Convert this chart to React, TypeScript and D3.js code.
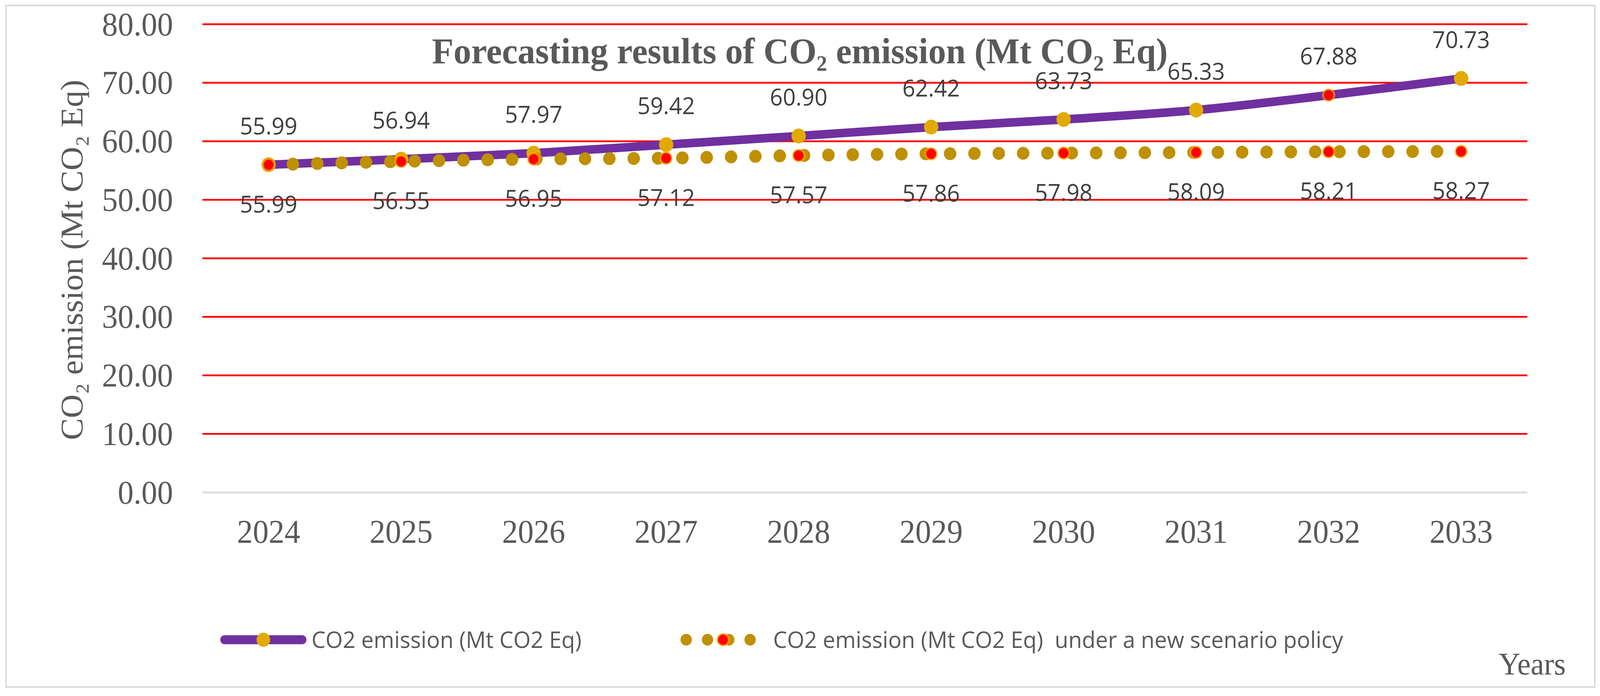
import { useEffect, useRef } from "react";
import * as d3 from "d3";

// Chart data
const years = ["2024", "2025", "2026", "2027", "2028", "2029", "2030", "2031", "2032", "2033"];
const emission = [55.99, 56.94, 57.97, 59.42, 60.9, 62.42, 63.73, 65.33, 67.88, 70.73];
const emissionPolicy = [55.99, 56.55, 56.95, 57.12, 57.57, 57.86, 57.98, 58.09, 58.21, 58.27];
const yTicks = [0, 10, 20, 30, 40, 50, 60, 70, 80];
// the base series has one point drawn with the red marker style
const redEmissionYears = ["2032"];

const seriesNames = [
  "CO2 emission (Mt CO2 Eq)",
  "CO2 emission (Mt CO2 Eq)  under a new scenario policy",
];

const WIDTH = 4253;
const HEIGHT = 1781;

const SERIF = "'Liberation Serif', 'Times New Roman', serif";
const SANS = "'Open Sans', 'Noto Sans', sans-serif";

export default function App() {
  const svgRef = useRef<SVGSVGElement>(null);

  useEffect(() => {
    if (!svgRef.current) return;
    d3.select(svgRef.current).selectAll("*").remove();
    const svg = d3.select(svgRef.current);

    const left = 538;
    const right = 4060;

    const x = d3.scaleBand<string>().domain(years).range([left, right]);
    const cx = (year: string) => (x(year) ?? 0) + x.bandwidth() / 2;
    const y = d3.scaleLinear().domain([0, 80]).range([1260, 62]);

    // Outer frame
    svg
      .append("rect")
      .attr("x", 16)
      .attr("y", 14)
      .attr("width", 4223)
      .attr("height", 1744)
      .attr("fill", "#ffffff")
      .attr("stroke", "#d9d9d9")
      .attr("stroke-width", 4);

    // Gridlines
    yTicks.forEach((t) => {
      svg
        .append("line")
        .attr("x1", left)
        .attr("x2", right)
        .attr("y1", y(t))
        .attr("y2", y(t))
        .attr("stroke", t === 0 ? "#d9d9d9" : "#ff0000")
        .attr("stroke-width", 4.5);
    });

    // Y tick labels
    yTicks.forEach((t) => {
      svg
        .append("text")
        .attr("x", 460)
        .attr("y", y(t))
        .attr("dy", "0.34em")
        .attr("text-anchor", "end")
        .attr("font-family", SERIF)
        .attr("font-size", 84)
        .attr("fill", "#595959")
        .text(t.toFixed(2));
    });

    // X tick labels
    years.forEach((yr) => {
      svg
        .append("text")
        .attr("x", cx(yr))
        .attr("y", 1389)
        .attr("text-anchor", "middle")
        .attr("font-family", SERIF)
        .attr("font-size", 84)
        .attr("fill", "#595959")
        .text(yr);
    });

    // Y axis title
    svg
      .append("text")
      .attr("transform", `translate(219, 665) rotate(-90)`)
      .attr("text-anchor", "middle")
      .attr("font-family", SERIF)
      .attr("font-size", 84)
      .attr("fill", "#595959")
      .text("CO₂ emission (Mt CO₂ Eq)");

    // Chart title
    svg
      .append("text")
      .attr("x", 2126)
      .attr("y", 162)
      .attr("text-anchor", "middle")
      .attr("font-family", SERIF)
      .attr("font-size", 94)
      .attr("font-weight", "bold")
      .attr("fill", "#595959")
      .text("Forecasting results of CO₂ emission (Mt CO₂ Eq)");

    // X axis title
    svg
      .append("text")
      .attr("x", 4162)
      .attr("y", 1726)
      .attr("text-anchor", "end")
      .attr("font-family", SERIF)
      .attr("font-size", 80)
      .attr("fill", "#595959")
      .text("Years");

    const line = d3
      .line<number>()
      .x((_, i) => cx(years[i]))
      .y((d) => y(d))
      .curve(d3.curveCatmullRom.alpha(0.5));

    const redMarker = (
      g: d3.Selection<SVGGElement, unknown, null, undefined>,
      px: number,
      py: number
    ) => {
      g.append("circle")
        .attr("cx", px)
        .attr("cy", py)
        .attr("r", 15)
        .attr("fill", "#ff0000")
        .attr("stroke", "#ffc000")
        .attr("stroke-opacity", 0.55)
        .attr("stroke-width", 5);
    };

    // Series 1: CO2 emission
    const g1 = svg.append("g");
    g1.append("path")
      .datum(emission)
      .attr("d", line)
      .attr("fill", "none")
      .attr("stroke", "#7030a0")
      .attr("stroke-width", 22);

    emission.forEach((v, i) => {
      if (redEmissionYears.includes(years[i])) {
        redMarker(g1, cx(years[i]), y(v));
      } else {
        g1.append("circle")
          .attr("cx", cx(years[i]))
          .attr("cy", y(v))
          .attr("r", 19)
          .attr("fill", "#e2aa00");
      }
    });

    // Series 2: new scenario policy (dotted)
    const g2 = svg.append("g");
    g2.append("path")
      .datum(emissionPolicy)
      .attr("d", line)
      .attr("fill", "none")
      .attr("stroke", "#bf9000")
      .attr("stroke-width", 33)
      .attr("stroke-linecap", "round")
      .attr("stroke-dasharray", "0.1 64.6");

    emissionPolicy.forEach((v, i) => {
      redMarker(g2, cx(years[i]), y(v));
    });

    // Data labels
    emission.forEach((v, i) => {
      svg
        .append("text")
        .attr("x", cx(years[i]))
        .attr("y", y(v) - 78)
        .attr("text-anchor", "middle")
        .attr("font-family", SANS)
        .attr("font-size", 60)
        .attr("fill", "#404040")
        .text(v.toFixed(2));
    });

    emissionPolicy.forEach((v, i) => {
      svg
        .append("text")
        .attr("x", cx(years[i]))
        .attr("y", y(v) + 122)
        .attr("text-anchor", "middle")
        .attr("font-family", SANS)
        .attr("font-size", 60)
        .attr("fill", "#404040")
        .text(v.toFixed(2));
    });

    // Legend
    const ly = 1637;
    const legend = svg.append("g");
    legend
      .append("line")
      .attr("x1", 597)
      .attr("x2", 803)
      .attr("y1", ly)
      .attr("y2", ly)
      .attr("stroke", "#7030a0")
      .attr("stroke-width", 23)
      .attr("stroke-linecap", "round");
    legend
      .append("circle")
      .attr("cx", 700)
      .attr("cy", ly)
      .attr("r", 18)
      .attr("fill", "#e2aa00");
    legend
      .append("text")
      .attr("x", 828)
      .attr("y", 1658)
      .attr("font-family", SANS)
      .attr("font-size", 59)
      .attr("fill", "#595959")
      .text(seriesNames[0]);

    legend
      .append("line")
      .attr("x1", 1824)
      .attr("x2", 1994)
      .attr("y1", ly)
      .attr("y2", ly)
      .attr("stroke", "#bf9000")
      .attr("stroke-width", 30)
      .attr("stroke-linecap", "round")
      .attr("stroke-dasharray", "0.1 56.5");
    redMarker(legend, 1922, ly);
    legend
      .append("text")
      .attr("x", 2055)
      .attr("y", 1658)
      .attr("font-family", SANS)
      .attr("font-size", 59)
      .attr("fill", "#595959")
      .style("white-space", "pre")
      .text(seriesNames[1]);
  }, []);

  return (
    <svg
      ref={svgRef}
      viewBox={`0 0 ${WIDTH} ${HEIGHT}`}
      preserveAspectRatio="none"
      style={{
        position: "fixed",
        left: 0,
        top: 0,
        width: "100%",
        height: "100%",
        display: "block",
        background: "#ffffff",
      }}
    ></svg>
  );
}
